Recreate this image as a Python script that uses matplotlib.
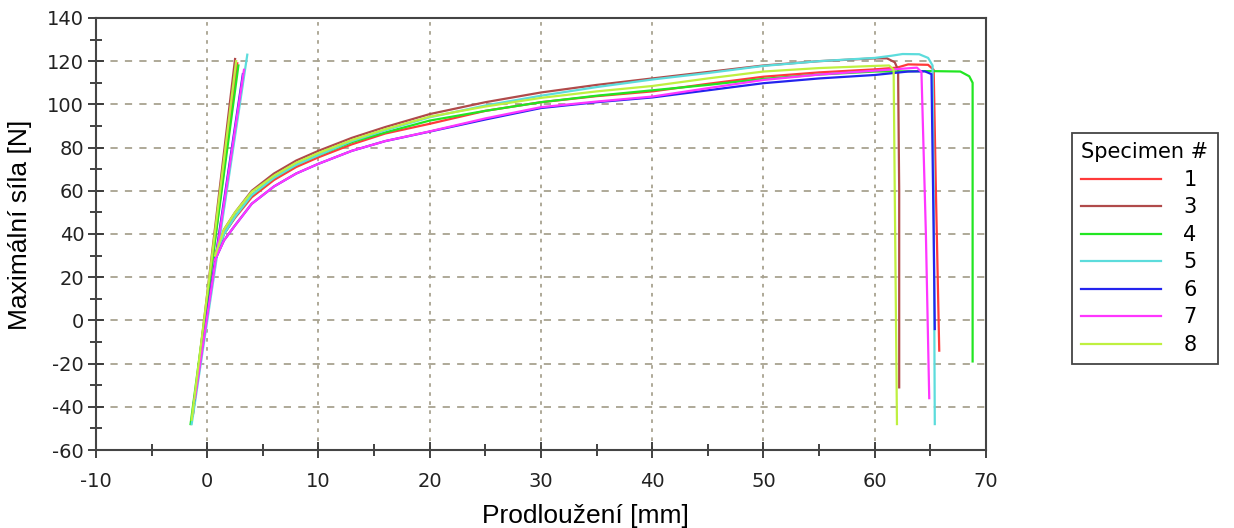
import numpy as np
import matplotlib
matplotlib.use("Agg")
import matplotlib.pyplot as plt
from matplotlib.ticker import MultipleLocator

plt.rcParams["axes.unicode_minus"] = False

# specimen labels and colours
specimens = ["1", "3", "4", "5", "6", "7", "8"]
colors = ["#ff3a3a", "#b04a4a", "#22e622", "#5cdcdc", "#2424ee", "#ff36ff", "#bff040"]

# elastic (steep) segment: (x_start, y_start, x_top, y_top)
steep = {
    "1": (-1.3, -44, 2.7, 119),
    "3": (-1.3, -44, 2.5, 121),
    "4": (-1.5, -48, 2.8, 118),
    "5": (-1.4, -48, 3.6, 123),
    "6": (-1.2, -38, 3.2, 114),
    "7": (-1.1, -36, 3.3, 116),
    "8": (-1.4, -46, 2.6, 120),
}

# common elongation points of the plastic curves [mm]
x_common = [0.7, 1.5, 2.5, 4, 6, 8, 10, 13, 16, 20, 25, 30, 35, 40, 45, 50, 55, 60]

# force values at x_common [N]
force = {
    "1": [29, 40, 47.5, 57, 65, 71, 75.5, 81.5, 86.5, 91, 97, 101, 103.8, 106, 109.5, 112.8, 114.8, 116.2],
    "3": [30, 42, 50, 60, 68, 74, 78.5, 84.5, 89.5, 95.5, 101, 105.5, 109, 112, 115, 118, 120, 121.3],
    "4": [29, 40, 48, 58, 66, 72, 76.5, 82.5, 87, 92.5, 97, 101, 104, 106.5, 109, 111.8, 113.8, 115.2],
    "5": [29, 40, 48, 58, 66, 72, 76.5, 83, 88, 94, 99.5, 104, 108, 111.5, 114.5, 117.8, 120, 121.5],
    "6": [28, 37, 44, 54, 62, 68, 72.5, 78.5, 83, 87.4, 93, 98.3, 101, 103.2, 106.5, 109.8, 112, 113.6],
    "7": [28, 37, 44, 54, 62, 68, 72.5, 78.5, 83, 87.5, 93.5, 98.7, 101.3, 103.6, 107.5, 111.3, 113.8, 115.6],
    "8": [30, 42, 50, 59.5, 67, 73, 77.5, 83.5, 88.5, 94.3, 99, 103, 106, 108.5, 112, 115.2, 116.8, 117.8],
}

# end of test: plateau and break (x, y)
tail = {
    "1": [(62, 117), (63, 118.5), (64.8, 118.3), (65.3, 116), (65.5, 60), (65.8, -14)],
    "3": [(61.1, 121.3), (61.8, 119.5), (62.1, 116), (62.2, 60), (62.2, -31)],
    "4": [(65, 115.4), (67.7, 115.2), (68.5, 113), (68.8, 110), (68.8, -19)],
    "5": [(61.5, 122.5), (62.5, 123.3), (64, 123.2), (64.8, 121.5), (65.2, 118), (65.3, 60), (65.4, -48)],
    "6": [(63, 115.2), (64.5, 115.3), (65.1, 114), (65.3, 40), (65.4, -4)],
    "7": [(62.5, 116.5), (63.8, 117), (64.2, 115), (64.6, 40), (64.9, -36)],
    "8": [(61.3, 118), (61.7, 116), (61.8, 60), (62.0, -48)],
}

fig = plt.figure(figsize=(12.34, 5.28), dpi=100)
ax = fig.add_axes([0.0778, 0.1477, 0.7212, 0.8183])

for name, c in zip(specimens, colors):
    x0, y0, x1, y1 = steep[name]
    tx = [p[0] for p in tail[name]]
    ty = [p[1] for p in tail[name]]
    xs = [x0, x1, np.nan] + x_common + tx
    ys = [y0, y1, np.nan] + force[name] + ty
    ax.plot(xs, ys, color=c, lw=1.6, label=name)

ax.set_xlim(-10, 70)
ax.set_ylim(-60, 140)
ax.xaxis.set_major_locator(MultipleLocator(10))
ax.xaxis.set_minor_locator(MultipleLocator(5))
ax.yaxis.set_major_locator(MultipleLocator(20))
ax.yaxis.set_minor_locator(MultipleLocator(10))
ax.tick_params(which="major", direction="inout", length=11, width=1.3,
               color="#333333", labelcolor="#222222")
ax.tick_params(which="minor", direction="inout", length=9, width=1.3, color="#333333")
ax.tick_params(axis="y", labelsize=14, pad=3)
ax.tick_params(axis="x", labelsize=14, pad=10)

ax.grid(axis="y", which="major", color="#a8a290", linestyle=(0, (4, 4)), lw=1.3)
ax.grid(axis="x", which="major", color="#a8a290", linestyle=(0, (2, 3)), lw=1.3)
for s in ax.spines.values():
    s.set_color("#444444")
    s.set_linewidth(1.5)

ax.set_xlabel("Prodloužení [mm]", fontsize=19, family="Liberation Sans")
ax.xaxis.set_label_coords(0.55, -0.125)
ax.set_ylabel("Maximální síla [N]", fontsize=19, family="Liberation Sans")
ax.yaxis.set_label_coords(-0.072, 0.52)

leg = fig.legend(title="Specimen #", loc="upper left", bbox_to_anchor=(0.8687, 0.748),
                 fontsize=15, title_fontsize=15, handlelength=3.8, handletextpad=1.1,
                 labelspacing=0.36, fancybox=False, framealpha=1, edgecolor="#444444",
                 borderpad=0.45, borderaxespad=0)
leg._legend_box.align = "left"
leg.get_frame().set_linewidth(1.3)

fig.savefig("out.png", dpi=100)
